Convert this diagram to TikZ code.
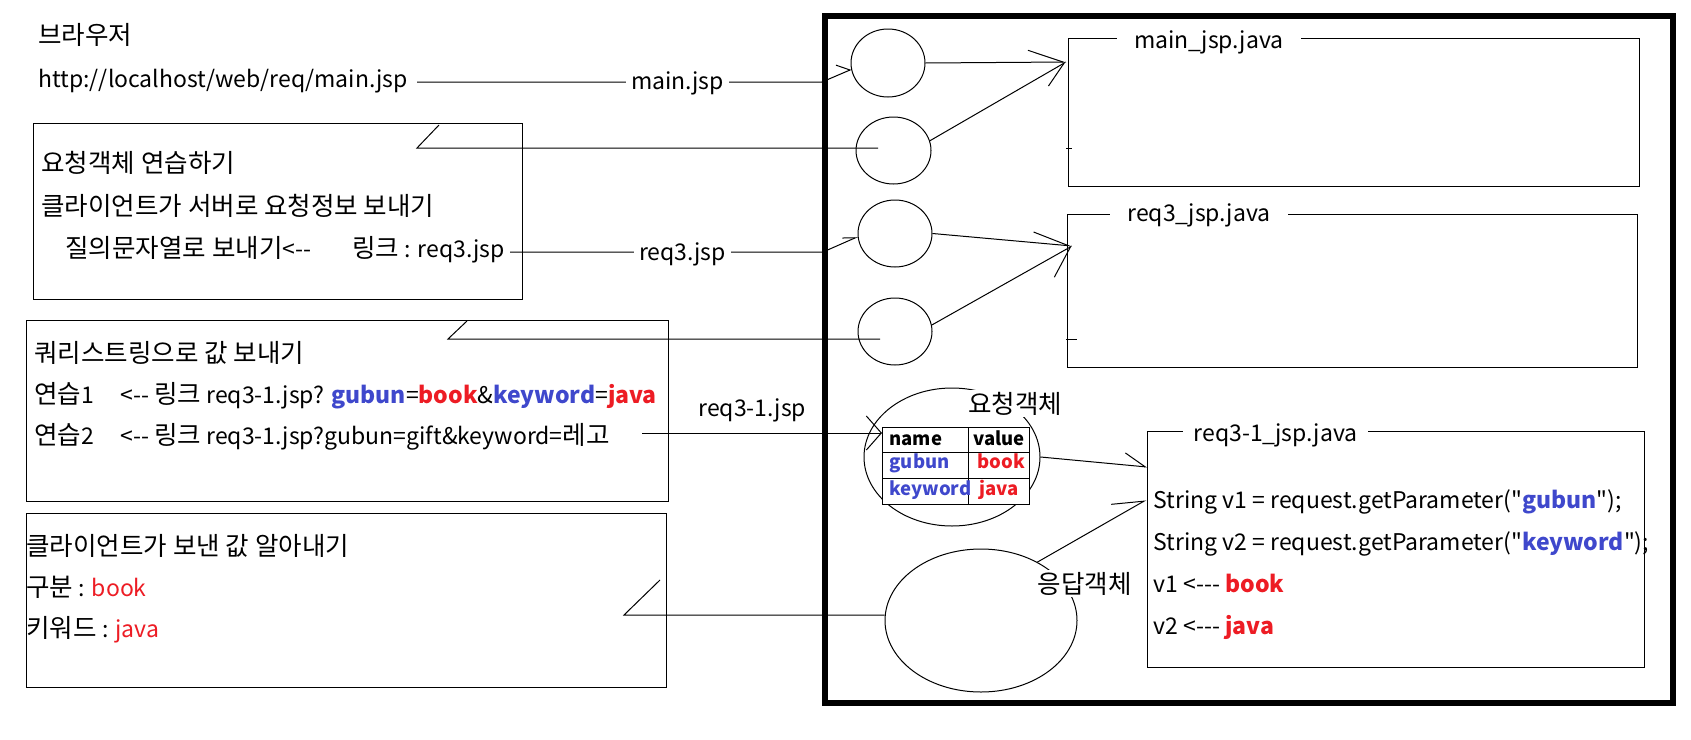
\documentclass[tikz,border=0pt]{standalone}
\usepackage{fontspec}
\newfontfamily\kr{Noto Sans CJK KR}
\newfontfamily\krh{Noto Sans CJK KR}[Scale=1.11]
\usetikzlibrary{shapes.geometric,arrows.meta}
\definecolor{pred}{RGB}{237,28,36}
\definecolor{pblue}{RGB}{63,72,204}
\newcommand{\kblue}[1]{{\bfseries\color{pblue}#1}}
\newcommand{\kred}[1]{{\bfseries\color{pred}#1}}
\newcommand{\kredn}[1]{{\color{pred}#1}}
\newcommand{\hg}[1]{{\krh #1}}
\begin{document}
\begin{tikzpicture}[x=1pt,y=-1pt, line width=1pt,
  txt/.style={anchor=base west, inner sep=0pt, font=\kr\fontsize{23}{27}\selectfont},
  lbl/.style={anchor=base, inner xsep=5pt, inner ysep=2pt, fill=white, font=\kr\fontsize{23}{27}\selectfont},
  tcell/.style={anchor=base west, inner sep=0pt, font=\kr\bfseries\fontsize{18.5}{22}\selectfont},
  frame/.style={draw, anchor=north west, inner sep=0pt},
  oval/.style={draw, ellipse, inner sep=0pt}]
\fill[white] (0,0) rectangle (1691,739);
\useasboundingbox (0,0) rectangle (1691,739);

% server frame
\node[frame, line width=5.5pt, minimum width=848pt, minimum height=687pt] (server) at (822,13) {};

% left boxes
\node[frame, minimum width=489.5pt, minimum height=176pt] (L1) at (32.5,123) {};
\node[frame, minimum width=642pt, minimum height=181pt] (L2) at (26,320) {};
\node[frame, minimum width=640.5pt, minimum height=174pt] (L3) at (25.5,513) {};

% right boxes
\node[frame, minimum width=571pt, minimum height=148pt] (B1) at (1068,38) {};
\node[frame, minimum width=570pt, minimum height=153pt] (B2) at (1067,214) {};
\node[frame, minimum width=497pt, minimum height=236pt] (B3) at (1147,431) {};

% circles
\node[oval, minimum width=74pt, minimum height=68pt] (c1) at (888,63) {};
\node[oval, minimum width=75pt, minimum height=67pt] (c2) at (893.5,150.5) {};
\node[oval, minimum width=74pt, minimum height=67pt] (c3) at (895,233.5) {};
\node[oval, minimum width=74pt, minimum height=67pt] (c4) at (895,331.5) {};
\node[oval, minimum width=176pt, minimum height=138pt] (req) at (952,457) {};
\node[oval, minimum width=192pt, minimum height=143pt] (resp) at (981,620.5) {};

% coordinates
\coordinate (m1) at (417,82);  \coordinate (m2) at (822,82);
\coordinate (r1) at (510,252); \coordinate (r2) at (823,252);
\coordinate (q1) at (642,433);
\coordinate (t1) at (1066,62); \coordinate (t2) at (1072,246);
\coordinate (t3a) at (1147,467); \coordinate (t3b) at (1146,500);
\coordinate (s1a) at (439,125); \coordinate (s1b) at (417,148); \coordinate (s1c) at (878,148);
\coordinate (s2a) at (467,321); \coordinate (s2b) at (448,339); \coordinate (s2c) at (880,339);
\coordinate (s3a) at (660,580); \coordinate (s3b) at (624,615);
\coordinate (k1a) at (1066,148); \coordinate (k1b) at (1072,148);
\coordinate (k2a) at (1066,339); \coordinate (k2b) at (1077,339);

% connectors
\draw[-{Straight Barb[harpoon,length=11pt,width=20pt]}] (m1) -- (m2) -- (c1.190);
\draw[-{Straight Barb[harpoon,length=12pt,width=10pt]}] (r1) -- (r2) -- (c3.185);
\draw[-{Straight Barb[harpoon,length=35pt,width=24pt]}] (c1.east) -- (t1);
\draw[-{Straight Barb[harpoon,swap,length=25pt,width=24pt]}] (c2.15) -- (t1);
\draw[-{Straight Barb[harpoon,length=36pt,width=21pt]}] (c3.east) -- (t2);
\draw[-{Straight Barb[harpoon,swap,length=29pt,width=37pt]}] (c4.10) -- (t2);
\draw (s1a) -- (s1b) -- (s1c);
\draw (k1a) -- (k1b);
\draw (s2a) -- (s2b) -- (s2c);
\draw (k2a) -- (k2b);
\draw (s3a) -- (s3b) -- (s3b -| resp.west);
\draw[-{Straight Barb[harpoon,length=21pt,width=24pt]}] (req.east) -- (t3a);
\draw[-{Straight Barb[harpoon,length=30pt,width=27pt]}] (resp.46) -- (t3b);

% table
\node[draw, fill=white, anchor=north west, minimum width=147pt, minimum height=77pt, inner sep=0pt] (tbl) at (882,427) {};
\draw (968,427) -- (968,504);
\draw (882,452) -- (1029,452);
\draw (882,478) -- (1029,478);
\node[tcell] (tn) at (889,445) {name};
\node[tcell] (tv) at (973,445) {value};
\node[tcell, text=pblue] (tg) at (889,468) {gubun};
\node[tcell, text=pred] (tb) at (977,468) {book};
\node[tcell, text=pblue] (tk) at (889,495) {keyword};
\node[tcell, text=pred] (tj) at (979,495) {java};
\draw[-{Straight Barb[length=15pt,width=34pt]}] (q1) -- (q1 -| tbl.west);

% labels on connectors / objects
\node[lbl] (lmain) at (677.5,89) {main.jsp};
\node[lbl] (lreq3) at (682.5,260) {req3.jsp};
\node[txt] (lreq31) at (698,416) {req3-1.jsp};
\node[lbl] (lreqobj) at (1015,413) {\hg{요청객체}};
\node[lbl] (lrespobj) at (1084.5,593) {\hg{응답객체}};

% box titles
\node[lbl, inner xsep=17pt] (ttl1) at (1209,48) {main\_jsp.java};
\node[lbl, inner xsep=17pt] (ttl2) at (1199,221) {req3\_jsp.java};
\node[lbl, inner xsep=11pt] (ttl3) at (1275.5,441) {req3-1\_jsp.java};

% browser texts
\node[txt] (brw) at (38,44) {\hg{브라우저}};
\node[txt] (url) at (38,87) {http://localhost/web/req/main.jsp};

\node[txt] (a1) at (41,172) {\hg{요청객체 연습하기}};
\node[txt] (a2) at (41,215) {\hg{클라이언트가 서버로 요청정보 보내기}};
\node[txt] (a3) at (65,257) {\hg{질의문자열로 보내기}<--};
\node[txt] (a4) at (352,257) {\hg{링크} : req3.jsp};

\node[txt] (b1) at (34,362) {\hg{쿼리스트링으로 값 보내기}};
\node[txt] (b2) at (34,403) {\hg{연습}1};
\node[txt, fill=white] (b3) at (120,403) {<-- \hg{링크} req3-1.jsp? \kblue{gubun}=\kred{book}\&\kblue{keyword}=\kred{java}};
\node[txt] (b4) at (34,444) {\hg{연습}2};
\node[txt] (b5) at (120,444) {<-- \hg{링크} req3-1.jsp?gubun=gift\&keyword=\hg{레고}};

\node[txt] (d1) at (26,555) {\hg{클라이언트가 보낸 값 알아내기}};
\node[txt] (d2) at (26,596) {\hg{구분} : \kredn{book}};
\node[txt] (d3) at (26,637) {\hg{키워드} : \kredn{java}};

% code
\node[txt] (e1) at (1153,508) {String v1 = request.getParameter("\kblue{gubun}");};
\node[txt] (e2) at (1153,550) {String v2 = request.getParameter("\kblue{keyword}");};
\node[txt] (e3) at (1153,592) {v1 <--- \kred{book}};
\node[txt] (e4) at (1153,634) {v2 <--- \kred{java}};
\end{tikzpicture}
\end{document}
